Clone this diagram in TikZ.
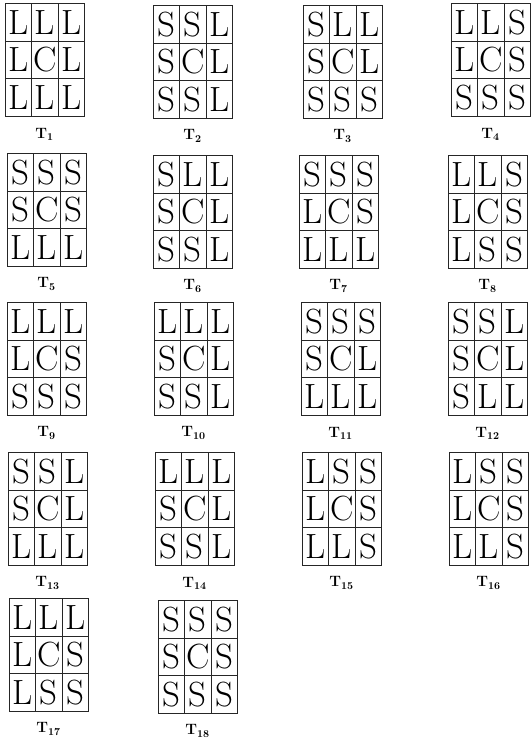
\documentclass[tikz,border=0pt]{standalone}
\usepackage{tikz}
\begin{document}
\begin{tikzpicture}[x=1pt,y=-1pt,
  cell/.style={draw=black!85,line width=0.7pt,minimum width=26.3pt,minimum height=37.7pt,
    inner sep=0pt,anchor=north west,font=\fontsize{35}{35}\selectfont},
  tlabel/.style={font=\fontsize{15}{15}\selectfont\bfseries,inner sep=0pt}]
\useasboundingbox[fill=white] (0,0) rectangle (531,739);
\foreach \n/\X/\Y/\a/\b/\c/\d/\e/\f/\g/\h/\i in {
 1/5/3/L/L/L/L/C/L/L/L/L,
 2/153/5/S/S/L/S/C/L/S/S/L,
 3/303/5/S/L/L/S/C/L/S/S/S,
 4/451/3/L/L/S/L/C/S/S/S/S,
 5/7/153/S/S/S/S/C/S/L/L/L,
 6/153/155/S/L/L/S/C/L/S/S/L,
 7/299/155/S/S/S/L/C/S/L/L/L,
 8/448/155/L/L/S/L/C/S/L/S/S,
 9/7/302/L/L/L/L/C/S/S/S/S,
 10/154/302/L/L/L/S/C/L/S/S/L,
 11/301/302/S/S/S/S/C/L/L/L/L,
 12/448/302/S/S/L/S/C/L/S/L/L,
 13/8/452/S/S/L/S/C/L/L/L/L,
 14/155/452/L/L/L/S/C/L/S/S/L,
 15/302/452/L/S/S/L/C/S/L/L/S,
 16/449/452/L/S/S/L/C/S/L/L/S,
 17/9/598/L/L/L/L/C/S/L/S/S,
 18/158/600/S/S/S/S/C/S/S/S/S}{
  \node[cell] (T\n-11) at (\X,\Y) {\a};
  \node[cell] (T\n-12) at (\X+26.3,\Y) {\b};
  \node[cell] (T\n-13) at (\X+52.6,\Y) {\c};
  \node[cell] (T\n-21) at (\X,\Y+37.7) {\d};
  \node[cell] (T\n-22) at (\X+26.3,\Y+37.7) {\e};
  \node[cell] (T\n-23) at (\X+52.6,\Y+37.7) {\f};
  \node[cell] (T\n-31) at (\X,\Y+75.4) {\g};
  \node[cell] (T\n-32) at (\X+26.3,\Y+75.4) {\h};
  \node[cell] (T\n-33) at (\X+52.6,\Y+75.4) {\i};
  \node[tlabel] (L\n) at (\X+39.5,\Y+131) {T\textsubscript{\n}};
}
\end{tikzpicture}
\end{document}
